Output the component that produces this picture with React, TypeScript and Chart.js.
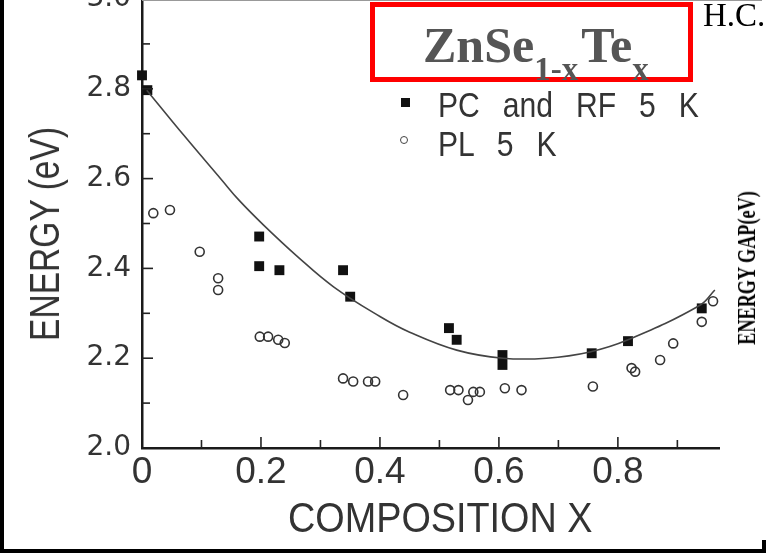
import React, { useEffect, useRef } from "react";
import { Chart, registerables } from "chart.js";

Chart.register(...registerables);

// ---- data ----
const PC_X = [0.0, 0.009, 0.197, 0.197, 0.231, 0.338, 0.35, 0.516, 0.529, 0.606, 0.606, 0.756, 0.817, 0.941];
const PC_E = [2.83, 2.797, 2.471, 2.405, 2.396, 2.396, 2.337, 2.267, 2.241, 2.207, 2.185, 2.211, 2.238, 2.311];

const PL_X = [0.019, 0.047, 0.097, 0.128, 0.128, 0.198, 0.212, 0.229, 0.24, 0.338, 0.355, 0.38, 0.392, 0.439, 0.518, 0.532, 0.548, 0.557, 0.568, 0.61, 0.638, 0.758, 0.823, 0.829, 0.871, 0.893, 0.941, 0.96];
const PL_E = [2.523, 2.53, 2.437, 2.378, 2.352, 2.248, 2.248, 2.241, 2.234, 2.155, 2.148, 2.148, 2.148, 2.118, 2.129, 2.129, 2.107, 2.125, 2.125, 2.133, 2.129, 2.137, 2.178, 2.17, 2.196, 2.233, 2.281, 2.327];

const FIT_X = [0.008, 0.07, 0.134, 0.163, 0.204, 0.26, 0.322, 0.4, 0.45, 0.529, 0.607, 0.68, 0.753, 0.817, 0.938, 0.963];
const FIT_E = [2.797, 2.697, 2.597, 2.552, 2.497, 2.428, 2.359, 2.293, 2.258, 2.218, 2.2, 2.2, 2.214, 2.241, 2.318, 2.352];

const X_LABEL_TICKS = [0, 0.2, 0.4, 0.6, 0.8];
const Y_LABEL_TICKS = [2.0, 2.2, 2.4, 2.6, 2.8, 3.0];
const X_TICK_MARKS = [0.1, 0.2, 0.3, 0.4, 0.5, 0.6, 0.7, 0.8, 0.9];
const Y_TICK_MARKS = [2.1, 2.2, 2.3, 2.4, 2.5, 2.6, 2.7, 2.8, 2.9];

const TITLE_MAIN = "ZnSe";
const TITLE_SUB1 = "1-x";
const TITLE_MID = "Te";
const TITLE_SUB2 = "x";
const LEGEND_PC = "PC and RF 5 K";
const LEGEND_PL = "PL 5 K";
const X_TITLE = "COMPOSITION X";
const Y_TITLE = "ENERGY (eV)";
const SIDE_TITLE = "ENERGY GAP(eV)";
const AUTHOR = "H.C.L";

const CANVAS_W = 766;
const CANVAS_H = 585;
const CANVAS_TOP = -30;

const tickPlugin = {
  id: "inwardTicks",
  afterDraw(chart: any) {
    const { ctx, chartArea, scales } = chart;
    ctx.save();
    ctx.strokeStyle = "#222";
    ctx.lineWidth = 1.6;
    Y_TICK_MARKS.forEach((v) => {
      const y = scales.y.getPixelForValue(v);
      const major = Math.round(v * 10) % 2 === 0;
      ctx.beginPath();
      ctx.moveTo(chartArea.left, y);
      ctx.lineTo(chartArea.left + (major ? 11 : 8), y);
      ctx.stroke();
    });
    X_TICK_MARKS.forEach((v) => {
      const x = scales.x.getPixelForValue(v);
      const major = Math.round(v * 10) % 2 === 0;
      ctx.beginPath();
      ctx.moveTo(x, chartArea.bottom);
      ctx.lineTo(x, chartArea.bottom - (major ? 11 : 8));
      ctx.stroke();
    });
    ctx.restore();
  },
};

function ChartCanvas() {
  const ref = useRef<HTMLCanvasElement | null>(null);
  useEffect(() => {
    const canvas = ref.current!;
    const chart = new Chart(canvas, {
      type: "scatter",
      data: {
        datasets: [
          {
            label: "fit",
            data: FIT_X.map((x, i) => ({ x, y: FIT_E[i] })),
            showLine: true,
            borderColor: "#444",
            borderWidth: 1.6,
            pointRadius: 0,
            tension: 0.4,
            clip: false,
          } as any,
          {
            label: LEGEND_PL,
            data: PL_X.map((x, i) => ({ x, y: PL_E[i] })),
            pointStyle: "circle",
            pointRadius: 4.5,
            pointBorderWidth: 1.6,
            borderColor: "#333",
            backgroundColor: "rgba(255,255,255,0)",
            clip: false,
          } as any,
          {
            label: LEGEND_PC,
            data: PC_X.map((x, i) => ({ x, y: PC_E[i] })),
            pointStyle: "rect",
            pointRadius: 7,
            pointBorderWidth: 0,
            borderColor: "#111",
            backgroundColor: "#111",
            clip: false,
          } as any,
        ],
      },
      options: {
        responsive: false,
        maintainAspectRatio: false,
        animation: false,
        layout: { padding: { top: 29, right: 47, left: 0, bottom: 0 } },
        plugins: { legend: { display: false }, tooltip: { enabled: false } },
        scales: {
          x: {
            type: "linear",
            min: 0,
            max: 0.97,
            afterFit: (s: any) => {
              s.height = 107;
            },
            afterBuildTicks: (s: any) => {
              s.ticks = X_LABEL_TICKS.map((v) => ({ value: v }));
            },
            grid: { display: false, drawTicks: false },
            border: { display: true, color: "#1a1a1a", width: 2.5 },
            ticks: {
              padding: 3,
              color: "#333",
              maxRotation: 0,
              autoSkip: false,
              font: { family: "'Liberation Sans', Arial, sans-serif", size: 37 },
              callback: (v: any) => (Number(v) === 0 ? "0" : Number(v).toFixed(1)),
            },
          },
          y: {
            type: "linear",
            min: 2.0,
            max: 3.0,
            afterFit: (s: any) => {
              s.width = 142;
            },
            afterBuildTicks: (s: any) => {
              s.ticks = Y_LABEL_TICKS.map((v) => ({ value: v }));
            },
            grid: { display: false, drawTicks: false },
            border: { display: true, color: "#1a1a1a", width: 2.5 },
            ticks: {
              padding: 11,
              color: "#333",
              autoSkip: false,
              font: { family: "'DejaVu Sans', sans-serif", size: 28 },
              callback: (v: any) => Number(v).toFixed(1),
            },
          },
        },
      } as any,
      plugins: [tickPlugin],
    });
    return () => chart.destroy();
  }, []);
  return (
    <canvas
      ref={ref}
      width={CANVAS_W}
      height={CANVAS_H}
      style={{ position: "absolute", left: 0, top: CANVAS_TOP, width: CANVAS_W, height: CANVAS_H }}
    />
  );
}

export default function App() {
  const abs: React.CSSProperties = { position: "absolute", whiteSpace: "nowrap", lineHeight: 1 };
  return (
    <div
      style={{
        position: "absolute",
        left: 0,
        top: 0,
        width: 766,
        height: 555,
        overflow: "hidden",
        background: "#fff",
      }}
    >
      <ChartCanvas />
      {/* frame pieces */}
      <div style={{ position: "absolute", left: 0, top: 0, width: 4, height: 553, background: "#000" }} />
      <div style={{ position: "absolute", left: 0, top: 549, width: 766, height: 4, background: "#000" }} />
      <div style={{ position: "absolute", left: 762, top: 540, width: 4, height: 13, background: "#000" }} />
      <div style={{ position: "absolute", left: 142, top: 0, width: 620, height: 1, background: "#999" }} />

      {/* title box */}
      <div
        style={{
          position: "absolute",
          left: 370,
          top: 2,
          width: 323,
          height: 80,
          border: "5px solid #ff0000",
          boxSizing: "border-box",
          background: "#fff",
        }}
      />
      <div
        style={{
          ...abs,
          left: 423,
          top: 20,
          fontFamily: "'Liberation Serif', 'Times New Roman', serif",
          fontWeight: "bold",
          fontSize: 50,
          color: "#555",
        }}
      >
        {TITLE_MAIN}
        <span style={{ fontSize: 33, position: "relative", top: 18, marginRight: 3 }}>{TITLE_SUB1}</span>
        {TITLE_MID}
        <span style={{ fontSize: 33, position: "relative", top: 18 }}>{TITLE_SUB2}</span>
      </div>
      <div
        style={{
          ...abs,
          left: 703,
          top: -1,
          fontFamily: "'Liberation Serif', 'Times New Roman', serif",
          fontSize: 33,
          color: "#000",
        }}
      >
        {AUTHOR}
      </div>

      {/* legend */}
      <div style={{ position: "absolute", left: 401, top: 98, width: 9, height: 9, background: "#111" }} />
      <div
        style={{
          position: "absolute",
          left: 400,
          top: 136,
          width: 8,
          height: 8,
          border: "1.5px solid #444",
          borderRadius: "50%",
          boxSizing: "border-box",
        }}
      />
      <div
        style={{
          ...abs,
          left: 438,
          top: 87,
          fontFamily: "'Liberation Sans', Arial, sans-serif",
          fontSize: 35,
          color: "#333",
          wordSpacing: 17,
          transform: "scaleX(0.86)",
          transformOrigin: "left top",
        }}
      >
        {LEGEND_PC}
      </div>
      <div
        style={{
          ...abs,
          left: 438,
          top: 126,
          fontFamily: "'Liberation Sans', Arial, sans-serif",
          fontSize: 35,
          color: "#333",
          wordSpacing: 17,
          transform: "scaleX(0.86)",
          transformOrigin: "left top",
        }}
      >
        {LEGEND_PL}
      </div>

      {/* axis titles */}
      <div
        style={{
          ...abs,
          left: 288,
          top: 497,
          fontFamily: "'Liberation Sans', Arial, sans-serif",
          fontSize: 42,
          color: "#333",
          transform: "scaleX(0.9)",
          transformOrigin: "left top",
        }}
      >
        {X_TITLE}
      </div>
      <div
        style={{
          ...abs,
          left: 45,
          top: 234,
          fontFamily: "'Liberation Sans', Arial, sans-serif",
          fontSize: 42,
          color: "#333",
          transform: "translate(-50%, -50%) rotate(-90deg) scaleX(0.8)",
        }}
      >
        {Y_TITLE}
      </div>
      <div
        style={{
          ...abs,
          left: 747,
          top: 268,
          fontFamily: "'Liberation Serif', 'Times New Roman', serif",
          fontWeight: "bold",
          fontSize: 26,
          color: "#000",
          transform: "translate(-50%, -50%) rotate(-90deg) scaleX(0.7)",
        }}
      >
        {SIDE_TITLE}
      </div>
    </div>
  );
}
